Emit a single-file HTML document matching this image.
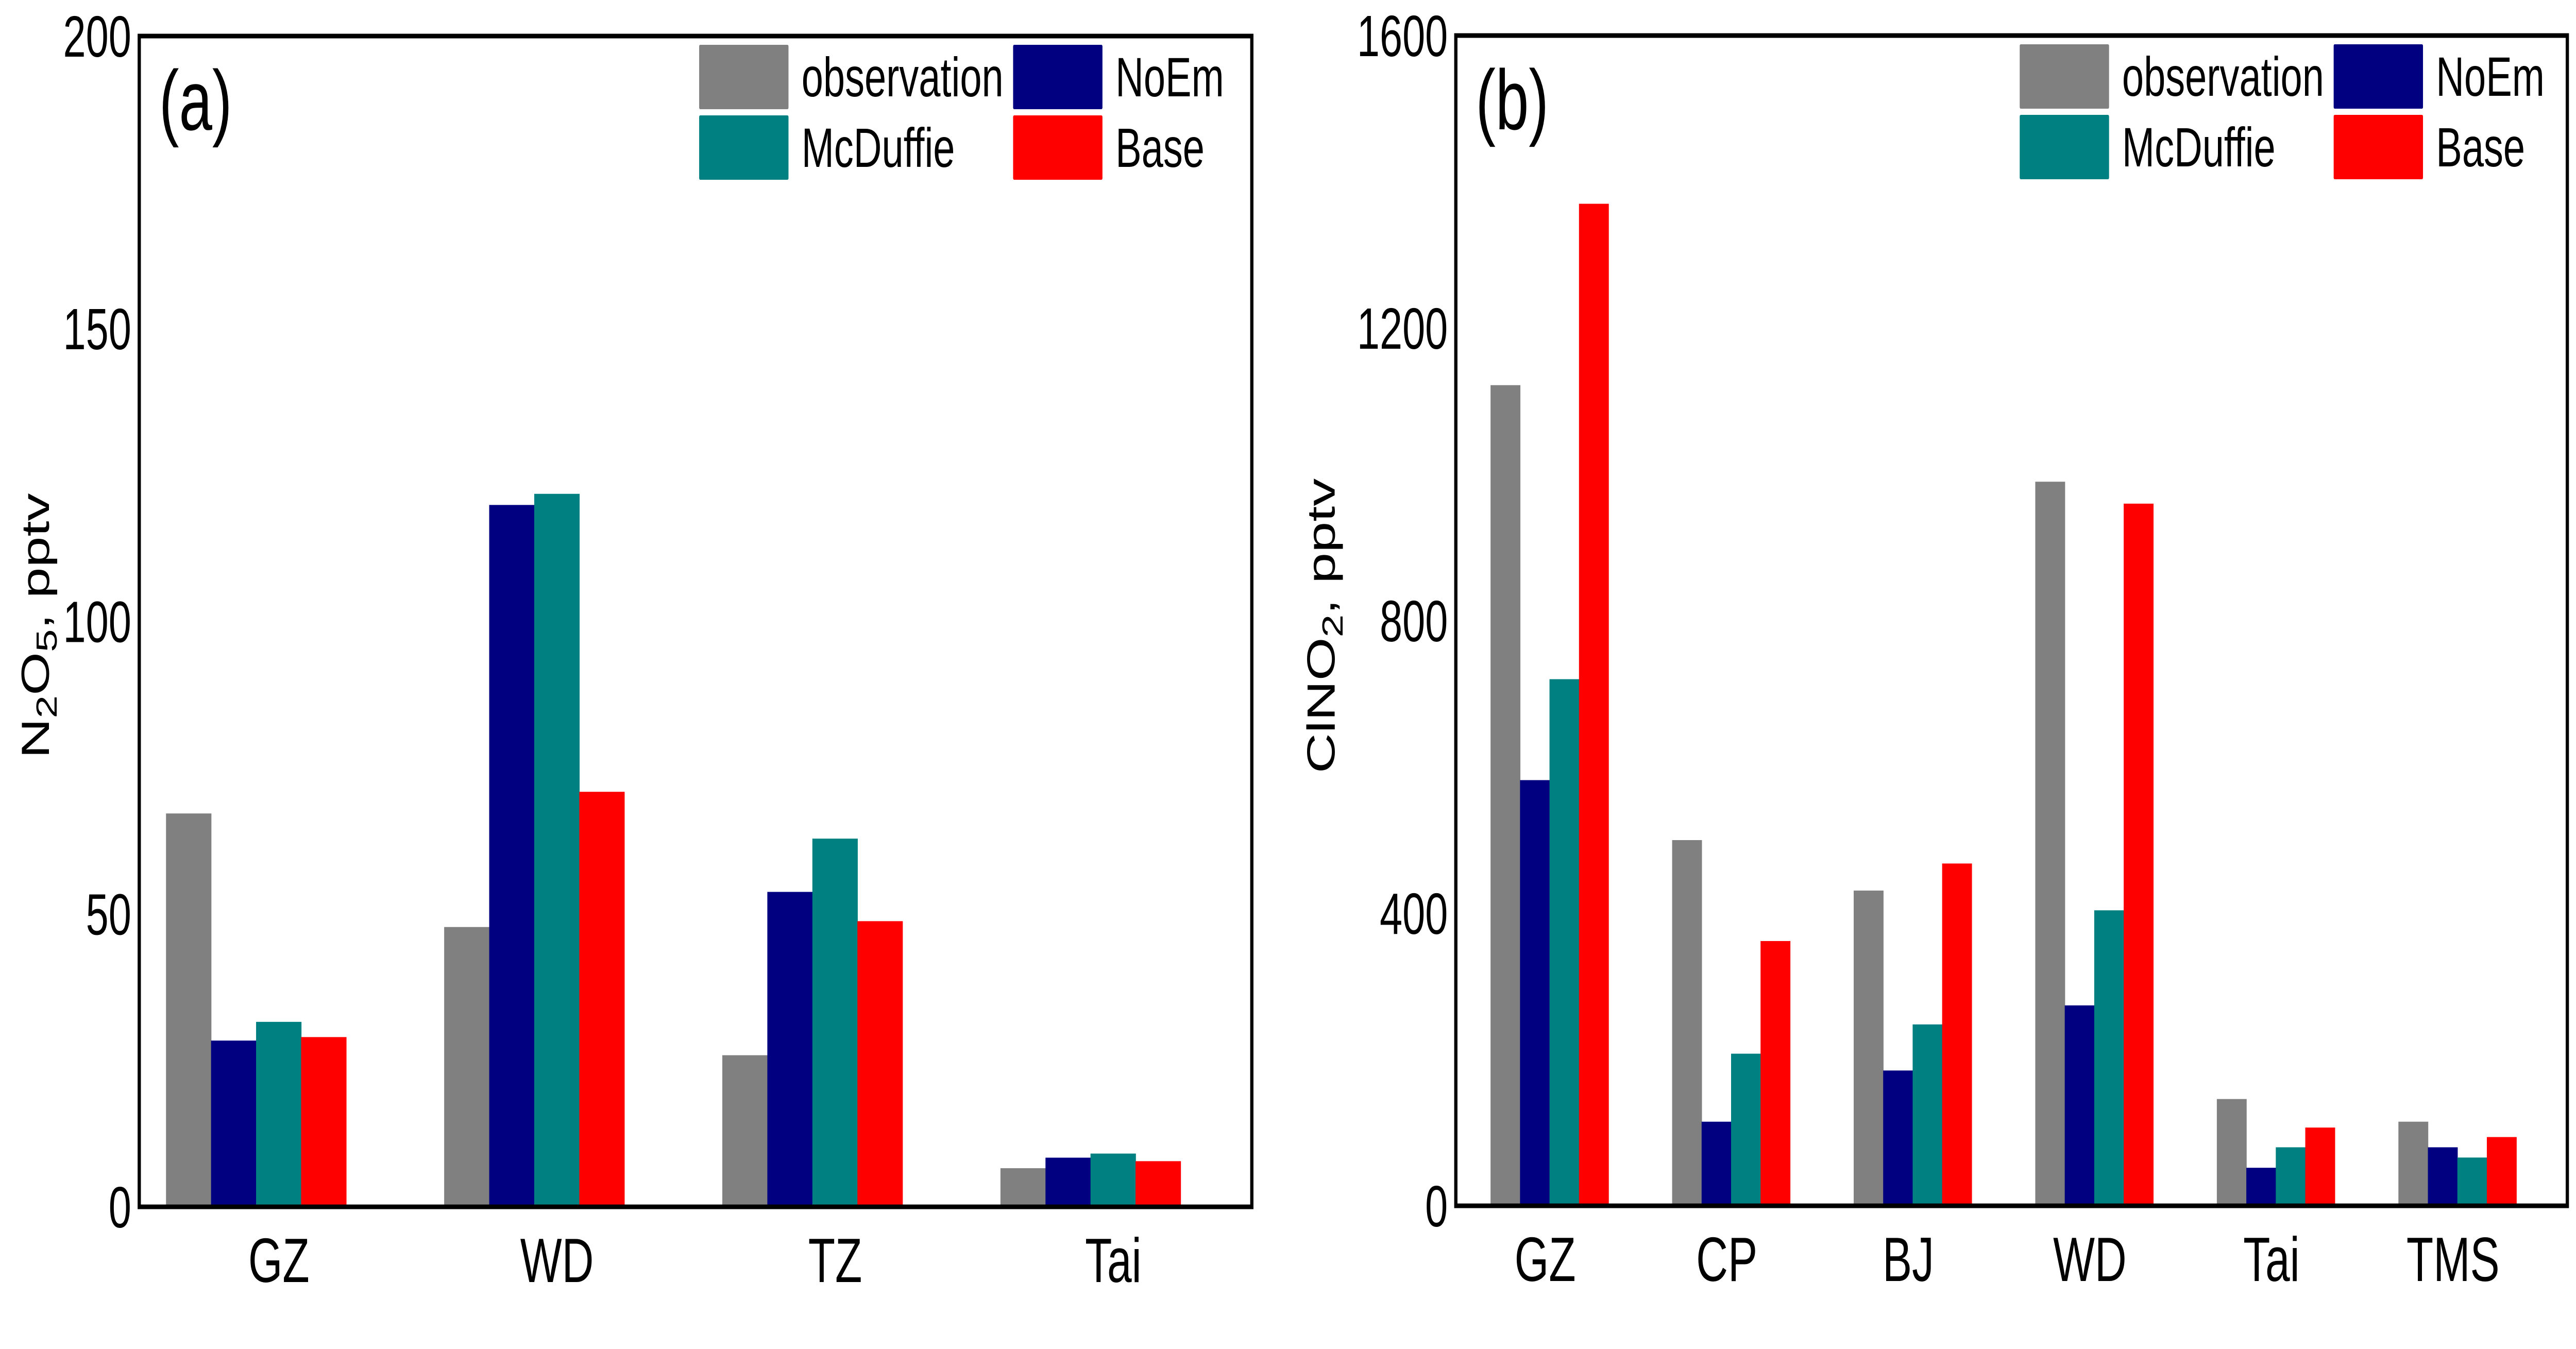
<!DOCTYPE html>
<html><head><meta charset="utf-8"><style>
html,body{margin:0;padding:0;background:#fff;width:100%;height:100%;overflow:hidden;}
svg{display:block;width:100vw;height:100vh;font-family:"Liberation Sans",Arial,sans-serif;}
</style></head><body>
<svg id="fig" viewBox="0 0 7122 2619" preserveAspectRatio="none" xmlns="http://www.w3.org/2000/svg">
<g id="pa"></g>
<g id="pb"></g>
</svg>
<script>
const seriesNames = ["observation","NoEm","McDuffie","Base"];
const seriesColors = ["#808080","#000080","#008080","#ff0000"];
const catsA = ["GZ","WD","TZ","Tai"];
const obsA = [67.2,47.8,25.9,6.6];
const noemA = [28.4,119.9,53.8,8.4];
const mcdA = [31.6,121.8,62.9,9.1];
const baseA = [29.0,70.9,48.8,7.8];
const ticksA = [0,50,100,150,200];
const catsB = ["GZ","CP","BJ","WD","Tai","TMS"];
const obsB = [1122,500,431,990,146,115];
const noemB = [582,115,185,274,52,80];
const mcdB = [720,208,248,404,80,66];
const baseB = [1370,362,468,960,107,94];
const ticksB = [0,400,800,1200,1600];

const NS="http://www.w3.org/2000/svg";
function mk(parent,tag,attrs,text){const e=document.createElementNS(NS,tag);for(const k in attrs)e.setAttribute(k,attrs[k]);if(text!==undefined)e.textContent=text;parent.appendChild(e);return e;}

function panel(g,cfg){
  const {L,R,T,B,ymax,cats,series,ticks,spacing,first,barW,barOff,letter,legX}=cfg;
  const y=v=>B-v/ymax*(B-T);
  const xc=i=>first+i*spacing;
  cats.forEach((c,i)=>{
    series.forEach((arr,s)=>{
      const r=mk(g,'rect',{x:xc(i)+barOff+s*barW,y:y(arr[i]),width:barW+1,height:B-y(arr[i]),fill:seriesColors[s]});
      
      
    });
    const t=mk(g,'text',{x:xc(i),y:B+146,'font-size':122,'text-anchor':'middle'},c);
    
    
  });
  ticks.forEach(v=>{
    const t=mk(g,'text',{x:L-22,y:y(v)+40,'font-size':113,'text-anchor':'end'},String(v));
    
    
  });
  const f=mk(g,'rect',{x:L,y:T,width:R-L,height:B-T,fill:'none',stroke:'#000','stroke-width':9});
  
  
  const lt=mk(g,'text',{x:L+55,y:T+182,'font-size':165},letter);
  
  
  const pos=[[0,0],[1,0],[0,1],[1,1]];
  const colX=[legX,legX+868];
  [0,1,2,3].forEach(s=>{
    const col=pos[s][0],row=pos[s][1];
    const sx=colX[col], sy=T+17+row*137;
    const sw=mk(g,'rect',{x:sx,y:sy,width:247,height:125,fill:seriesColors[s],rx:3});
    
    
    const tx=mk(g,'text',{x:sx+283,y:sy+100,'font-size':108},seriesNames[s]);
    
    
  });
}
panel(document.getElementById('pa'),{L:385,R:3461,T:70,B:2343,ymax:200,cats:catsA,series:[obsA,noemA,mcdA,baseA],ticks:ticksA,spacing:769,first:771,barW:124.5,barOff:-312,letter:"(a)",legX:1933});
panel(document.getElementById('pb'),{L:4025,R:7098,T:69,B:2341,ymax:1600,cats:catsB,series:[obsB,noemB,mcdB,baseB],ticks:ticksB,spacing:502,first:4272,barW:81.5,barOff:-151,letter:"(b)",legX:5584});

const fig=document.getElementById('fig');
const ya=mk(fig,'text',{transform:'translate(135,1215) rotate(-90)','font-size':108,'text-anchor':'middle'});


ya.innerHTML='N<tspan font-size="80" dy="22">2</tspan><tspan dy="-22">O</tspan><tspan font-size="80" dy="22">5</tspan><tspan dy="-22">, pptv</tspan>';
const yb=mk(fig,'text',{transform:'translate(3690,1215) rotate(-90)','font-size':108,'text-anchor':'middle'});


yb.innerHTML='ClNO<tspan font-size="80" dy="22">2</tspan><tspan dy="-22">, pptv</tspan>';
</script>
</body></html>
